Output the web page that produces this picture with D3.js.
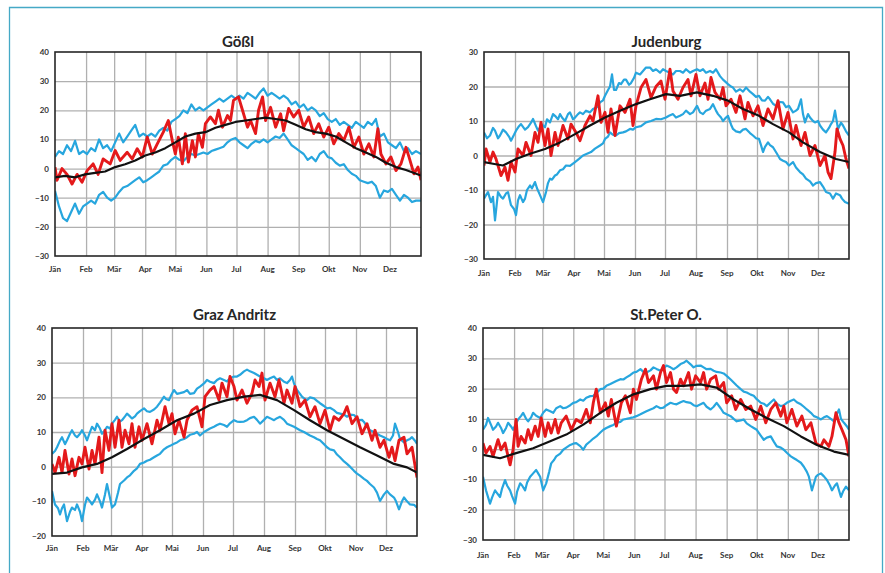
<!DOCTYPE html>
<html>
<head>
<meta charset="utf-8">
<script src="https://cdn.jsdelivr.net/npm/d3@7"></script>
<style>
  html, body { margin: 0; padding: 0; background: #fff; }
  svg { display: block; }
</style>
</head>
<body>
<svg id="chart" width="885" height="573"></svg>
<script>
// Month axis (day of year where each month starts)
const months = ["Jän","Feb","Mär","Apr","Mai","Jun","Jul","Aug","Sep","Okt","Nov","Dez"];
const monthStartDays = [0,31,59,90,120,151,181,212,243,273,304,334];

const stations = ["Gößl","Judenburg","Graz Andritz","St.Peter O."];
const yTicksGoessl = [-30,-20,-10,0,10,20,30,40];
const yTicksJudenburg = [-30,-20,-10,0,10,20,30];
const yTicksGraz = [-20,-10,0,10,20,30,40];
const yTicksStPeter = [-30,-20,-10,0,10,20,30,40];

// Daily temperatures (°C) as [day of year, value]
const goesslMax = [[0,4],[4,6],[8,5],[12,8],[16,6],[20,9.5],[24,5],[28,6],[32,5],[36,7],[40,6],[44,10],[48,7],[52,8],[56,6],[60,9],[64,12],[68,9],[72,11],[76,13],[80,15],[84,11],[88,12],[92,11],[96,12],[100,11],[104,13],[108,14],[112,13],[116,16],[120,17],[124,18],[128,20],[132,19],[136,22],[140,20],[144,21],[148,20],[152,21],[156,22],[160,23],[164,24],[168,23],[172,24],[176,25],[180,24],[184,25],[188,24],[192,26],[196,25],[200,24],[204,26],[208,27.5],[212,25],[216,26],[220,25],[224,24],[228,25],[232,24],[236,22],[240,23],[244,21],[248,22],[252,20],[256,21],[260,20],[264,18],[268,19],[272,17],[276,16],[280,17],[284,15],[288,16],[292,15],[296,14],[300,16],[304,15],[308,14],[312,16],[316,15],[320,17],[324,11],[328,12],[332,9],[336,8],[340,7],[344,9],[348,6],[352,7],[356,5],[360,6],[365,5]];
const goesslMin = [[0,-7.6],[4,-13],[8,-17],[12,-18],[16,-15],[20,-12],[24,-15.5],[28,-13],[32,-12],[36,-11],[40,-12],[44,-9],[48,-8],[52,-10],[56,-11],[60,-10],[64,-8],[68,-6.5],[72,-6],[76,-5],[80,-4],[84,-3],[88,-4.7],[92,-4],[96,-3],[100,-2],[104,-1],[108,1],[112,1.5],[116,3],[120,4],[124,3],[128,2.5],[132,4],[136,5],[140,4.5],[144,5],[148,5.5],[152,5],[156,6],[160,6.5],[164,7],[168,7.5],[172,9],[176,10],[180,10.5],[184,9],[188,8],[192,7],[196,8.5],[200,9.5],[204,9],[208,10],[212,9],[216,10],[220,11],[224,10.5],[228,12],[232,10],[236,8],[240,7],[244,6],[248,5],[252,3],[256,4],[260,2.5],[264,5],[268,6],[272,4],[276,3.5],[280,2],[284,1],[288,1.5],[292,-0.5],[296,-1.8],[300,-2.5],[304,-4],[308,-4.5],[312,-5],[316,-4.5],[320,-6],[324,-10],[328,-7.5],[332,-8],[336,-7],[340,-9],[344,-11],[348,-9],[352,-10],[356,-11.5],[360,-11],[365,-11]];
const goesslMean = [[0,-3],[10,-2.5],[20,-3],[30,-2],[40,-1.5],[50,-1],[60,0.5],[70,1.5],[80,2.8],[90,4.5],[100,5.5],[110,7],[120,9],[130,11],[140,12],[150,12.5],[160,14],[170,15],[180,16],[190,16.5],[200,17],[210,17.5],[220,17],[230,16.5],[240,15],[250,13.5],[260,12.5],[270,12],[280,11],[290,9],[300,7],[310,5.5],[320,4],[330,2],[340,0.5],[350,-0.5],[365,-2.4]];
const goesslCurrent = [[0,0.5],[2,-4],[7,0],[12,-2],[17,-5.3],[22,-2],[27,-4.7],[32,-0.7],[38,1.6],[43,-2],[48,3.3],[55,1.6],[60,6.2],[65,2.8],[72,5.6],[77,3.3],[82,6.8],[87,4],[92,10.8],[97,5],[102,8.5],[108,12.5],[113,16.5],[117,9.6],[120,5],[123,10.8],[127,1.6],[130,12],[133,2.2],[137,9.6],[140,4],[143,12],[147,7.3],[150,15.4],[155,17.7],[160,15.4],[163,20],[167,14.2],[172,18.2],[175,16.5],[178,23.4],[183,24.6],[187,20],[192,14.2],[195,16.5],[200,12],[203,20],[207,24.6],[210,16.5],[215,21],[220,14.2],[225,18.8],[228,13],[233,20.6],[238,17.7],[243,20],[248,14.2],[253,17.7],[258,12],[263,15.4],[268,10.8],[273,14.2],[278,8.5],[283,12],[288,9.6],[293,14.2],[298,7.3],[303,10.8],[308,5],[313,8.5],[318,4],[322,13.7],[325,5],[330,1.6],[335,4],[340,-0.7],[345,1.6],[350,7.3],[353,4],[358,-1.8],[362,0.5],[365,-4]];

const judenburgMax = [[0,6.7],[3,5],[6,5.8],[9,8],[11,7.2],[14,5],[16,5.8],[19,7.5],[22,6.7],[25,5.5],[27,4.3],[30,6],[32,7.2],[35,8.5],[37,9.1],[41,7.5],[44,8.2],[47,9.5],[49,10.6],[52,8.5],[54,7.2],[58,9],[61,8.2],[63,10.5],[66,9.6],[69,12],[71,11.5],[74,10.5],[76,12],[78,11],[81,10],[84,12],[86,12.5],[89,10.5],[91,11],[94,12],[96,12.5],[99,12],[102,13],[106,12.5],[109,13.5],[113,14],[116,15.4],[119,16],[121,17.3],[124,19],[126,20],[128,23.5],[130,19],[132,19],[135,21],[137,20.7],[140,22],[142,22],[145,20.5],[147,21],[150,22.5],[152,24],[156,23.5],[159,24.5],[162,25.5],[166,25.5],[169,24.5],[172,25],[176,24],[179,25],[182,24.5],[186,24],[189,23.5],[192,24.5],[196,24.5],[199,24],[202,25],[206,24],[209,24.5],[213,25],[216,24.5],[219,25],[222,24],[226,24.5],[229,24],[232,25],[236,23],[239,22],[241,21.5],[244,20.7],[247,20],[249,19.7],[252,18.5],[256,19.2],[259,18.5],[262,19.7],[266,18.5],[269,17.8],[272,17],[275,17.3],[278,16],[281,15.9],[284,17],[286,16.3],[289,15],[292,14.4],[296,15.5],[299,15.4],[302,14],[305,14.4],[309,12.5],[312,13],[314,13.5],[317,16.3],[319,12],[321,9.6],[324,12],[326,11],[329,10],[331,9.6],[334,10],[336,8.7],[339,7.5],[342,6.7],[345,8],[347,9.1],[349,10],[351,13],[354,7.7],[357,9.5],[359,8.7],[362,7],[365,5.8]];
const judenburgMin = [[0,-12.5],[2,-11.5],[4,-10.6],[7,-13.5],[9,-12],[11,-18.8],[14,-10.6],[17,-12],[19,-12.5],[22,-11],[24,-10.6],[27,-14.4],[30,-15.5],[32,-17.3],[34,-13],[36,-11.5],[39,-13.5],[41,-12.5],[43,-10],[46,-8.7],[48,-9.5],[51,-7.7],[53,-9.5],[56,-11.5],[59,-13.5],[62,-10.6],[64,-8],[66,-6.7],[68,-7],[71,-5.8],[73,-5.5],[76,-4.3],[79,-4],[82,-2.9],[86,-3],[91,-1.9],[95,-1],[99,0],[103,0.5],[107,1],[111,2],[116,2.9],[119,3.5],[121,4.8],[124,5.5],[126,6.7],[129,6],[132,5.8],[135,6.5],[139,6.7],[142,7],[146,7.7],[149,7.5],[152,8.2],[157,8.5],[162,9.6],[167,10],[172,10.6],[177,10.5],[182,11],[185,11.5],[189,12],[192,11],[196,11.5],[199,12],[202,13],[206,12],[209,12.5],[213,14.4],[216,12.5],[219,12],[222,13],[226,13.5],[229,14.9],[232,13],[234,12],[237,11],[239,10],[242,11],[244,11.5],[247,9],[249,7.7],[252,7],[256,6.7],[259,7.5],[262,7.7],[266,6.5],[269,5.8],[272,5],[275,4.8],[277,3],[279,1],[281,2.5],[284,3.8],[286,3],[289,2.4],[293,0.5],[296,-1],[299,-1.5],[302,-1.9],[305,-2.9],[309,-1.9],[312,-3.5],[316,-4.8],[319,-5.5],[322,-6.7],[326,-7.5],[329,-8.7],[332,-8],[336,-7.7],[339,-9],[342,-10.6],[346,-11],[349,-12.5],[352,-11],[356,-11.5],[358,-12.5],[361,-13.5],[365,-14]];
const judenburgMean = [[0,-1.9],[9,-2.4],[19,-2.9],[32,-1],[46,0.5],[61,1.9],[76,3.8],[91,6.2],[106,8.7],[121,11],[136,13],[152,14.9],[166,16.3],[182,17.8],[196,17.3],[213,18.3],[229,17.3],[244,15.9],[259,13.5],[275,11.5],[289,9.1],[305,6.7],[319,3.8],[336,1],[352,-1],[365,-1.9]];
const judenburgCurrent = [[0,-2.9],[2,1.9],[6,-1.9],[9,1],[12,-1],[17,-5.8],[21,-3.4],[24,-7.2],[27,-1.9],[31,-4.8],[34,1.9],[39,0],[42,3.8],[47,0],[51,6.7],[54,3.8],[57,9.6],[61,2.9],[64,7.7],[67,0],[71,6.7],[74,2.9],[79,8.7],[84,4.8],[87,9.1],[92,6.7],[96,4.3],[101,8.7],[106,11.5],[109,10],[114,17.3],[117,9.6],[121,12.5],[124,6.7],[127,13.5],[131,5.8],[136,14.4],[141,12.5],[146,16.3],[149,8.7],[152,14.4],[157,19.7],[162,22],[167,16.8],[172,20],[177,21.6],[181,16.3],[186,25],[189,18.7],[194,16.3],[199,19.7],[204,22],[207,17.3],[212,23.5],[216,17.3],[221,21],[224,16.3],[227,22.6],[231,18.3],[236,16.3],[239,19.7],[242,14.4],[247,16.3],[252,12.5],[256,17.3],[261,10.6],[264,15.4],[269,11.5],[274,14.4],[279,8.7],[284,13.5],[289,10.6],[294,15.9],[299,7.7],[304,12.5],[309,4.8],[312,8.7],[317,2.9],[321,6.7],[326,0],[331,2.9],[336,-2.9],[341,0],[344,-4.8],[347,-6.7],[351,1],[353,7.7],[356,4.8],[359,2.9],[362,-1],[365,-3.8]];

const grazMax = [[0,3.7],[3,4.5],[5,5.6],[8,7.5],[10,8.5],[13,6.5],[15,7.6],[18,9.5],[20,10.5],[23,9],[25,8.5],[28,9.5],[30,10.5],[33,9],[35,7.6],[38,10],[40,11.5],[43,10.5],[45,12.4],[48,11],[50,9.5],[53,10.5],[55,11.5],[58,11],[60,12.4],[63,13.5],[65,14.4],[68,13],[70,13.4],[73,14.5],[75,15.3],[78,14.5],[80,13.9],[83,14.5],[85,15.3],[88,16],[92,16.8],[95,16],[98,15.8],[102,16.5],[105,17.3],[108,18.5],[112,20.2],[114,19.5],[117,19.2],[119,20.5],[122,22.1],[125,21],[128,21.2],[132,21.5],[135,22.1],[138,21],[142,21.2],[145,22.5],[148,23.1],[152,24],[155,25],[158,24.5],[162,24.1],[165,25],[168,25.5],[172,25],[175,24.6],[178,25.5],[182,26],[185,26],[188,26.5],[192,27.5],[195,28],[198,27.5],[202,27],[205,26.5],[208,26],[212,25.5],[215,25],[218,25.5],[222,26],[225,25],[228,25.5],[232,24.5],[235,24.1],[238,25],[240,26],[242,24],[245,22.1],[248,21],[250,20.2],[253,19.5],[255,19.2],[258,20],[262,19.7],[265,19],[268,18.3],[272,17.5],[275,16.8],[278,17],[282,16.3],[285,15.5],[288,15.3],[292,15],[295,14.4],[298,15],[302,14.9],[305,14],[307,13.4],[310,13.5],[312,12.9],[315,11.5],[318,10.5],[322,10],[325,9.5],[328,9],[332,8.5],[335,8],[338,7.6],[341,9],[343,12.4],[346,10],[348,8],[352,7],[355,7.6],[358,8],[360,8.5],[363,7.5],[365,6.6]];
const grazMin = [[0,-7],[3,-10.9],[6,-12],[8,-13.8],[10,-12],[12,-10.9],[15,-15.7],[18,-13],[20,-11.8],[23,-12.5],[25,-10.9],[28,-13],[30,-15.7],[33,-11],[35,-8.9],[38,-10],[40,-10.9],[43,-9.5],[45,-8],[48,-10],[50,-11.8],[53,-8],[55,-5],[58,-9],[60,-11.8],[63,-10.9],[66,-7.5],[68,-5],[72,-4],[75,-3.1],[78,-2.5],[82,-1.2],[85,-0.5],[88,0.8],[92,1.2],[95,1.7],[98,2],[102,2.7],[105,3.2],[108,3.7],[112,5],[115,5.6],[118,6],[122,6.6],[125,7],[128,7.6],[132,8],[135,8.5],[138,9.2],[142,9.5],[145,10],[148,9],[152,10],[155,10.5],[158,11],[162,11.5],[165,12],[168,12.4],[172,12],[175,11.5],[178,12.5],[182,13.4],[185,13],[188,12.9],[192,13],[195,13.4],[198,14],[202,14.4],[205,13.5],[208,12.4],[212,13.5],[215,14.4],[218,14],[222,13.4],[225,14],[228,14.4],[232,13.5],[235,12.4],[238,12],[242,11.5],[245,11],[248,10.5],[252,10],[255,9.5],[258,9],[262,8.5],[265,8],[268,7.6],[272,6.5],[275,5.6],[278,5],[282,4.7],[285,3.5],[288,2.7],[292,1.5],[295,0.8],[298,0],[302,-1.2],[305,-2],[308,-2.6],[312,-3.5],[315,-4.1],[318,-5],[322,-6],[325,-7.5],[328,-9.9],[332,-8],[335,-7],[338,-8],[342,-8.9],[344,-10],[347,-12.3],[350,-10],[352,-8.9],[355,-10],[358,-10.9],[362,-11],[365,-11.8]];
const grazMean = [[0,-2.1],[15,-1.7],[30,-0.2],[45,0.8],[60,2.7],[75,5.1],[92,8],[108,10.5],[125,13.4],[142,15.3],[158,17.8],[175,19.2],[192,20.2],[208,20.7],[225,19.2],[242,16.3],[258,13.4],[275,10.5],[292,8],[308,5.6],[325,3.2],[342,0.8],[355,-0.2],[365,-1.7]];
const grazCurrent = [[0,0.8],[3,-1.7],[7,2.7],[10,-1.7],[13,4.7],[17,-2.1],[20,2.2],[23,-2.6],[27,2.7],[30,0.8],[33,5.6],[37,-0.7],[40,4.7],[43,0.8],[47,8.5],[50,-1.7],[53,10.5],[57,4.7],[60,12.4],[63,5.6],[67,13.4],[70,5.6],[73,10.5],[77,6.6],[80,12.4],[83,5.6],[87,11.5],[90,7.6],[95,12.4],[100,6.6],[105,13.4],[108,10.5],[113,17.3],[117,12.4],[120,15.3],[123,9.5],[127,13.4],[132,8.5],[135,13.4],[140,16.3],[145,17.3],[150,11.5],[153,20.2],[158,22.1],[162,23.1],[167,19.2],[170,24.1],[175,20.2],[178,26],[182,23.1],[185,19.2],[190,22.1],[195,18.3],[200,21.2],[203,25],[207,23.1],[210,27],[213,19.2],[218,24.1],[223,20.2],[227,25],[232,18.3],[235,22.1],[240,18.3],[243,23.1],[248,17.3],[253,19.2],[258,14.4],[263,17.3],[268,12.4],[273,16.3],[278,10.5],[282,14.4],[287,13.4],[292,15.3],[295,17.3],[300,12.4],[305,14.4],[310,9.5],[315,12.4],[320,7.6],[323,10.5],[328,5.6],[332,7.6],[337,2.7],[340,5.6],[343,1.7],[347,7.6],[352,8.5],[355,3.7],[360,5.6],[365,-3.1]];

const stPeterMax = [[0,6.4],[3,8],[5,10.3],[8,8],[10,6.4],[13,7.5],[15,8.7],[18,7],[20,5.3],[23,7],[25,8.7],[28,7.5],[30,6.4],[33,8.5],[35,9.8],[38,11],[40,12],[43,10],[45,9.2],[48,10.5],[50,12],[53,11],[57,10.3],[60,12],[63,13.1],[67,12.5],[70,12],[73,13.5],[77,14.2],[80,13.5],[83,13.7],[87,14.5],[90,15.3],[93,15.5],[97,16.4],[100,16],[103,17],[107,17.5],[110,17.6],[113,18.5],[117,19.8],[120,20],[123,20.9],[127,21.5],[130,22],[133,22.5],[137,23.1],[140,23],[143,23.7],[147,24.5],[150,25.3],[153,25.5],[157,26.4],[160,25.5],[163,25.3],[167,26],[170,27],[173,26.5],[177,25.9],[180,26.5],[183,27.6],[187,27],[190,26.4],[193,27],[197,28.1],[200,28.5],[203,29.2],[207,28],[210,27],[213,27.5],[217,27.6],[220,27],[223,26.4],[227,26.5],[230,25.9],[233,25.5],[237,25.3],[240,25],[243,24.2],[247,23],[250,22],[253,21],[257,19.8],[260,19],[263,18.7],[267,18],[270,17.6],[273,16.5],[277,15.3],[280,15],[283,14.2],[287,15.5],[290,16.4],[293,15],[297,14.2],[300,14.5],[303,15.3],[307,16],[310,16.4],[313,15.5],[317,14.8],[320,14],[323,13.1],[327,12],[330,10.9],[333,10.5],[337,9.8],[340,10.5],[343,10.9],[347,10],[350,9.2],[352,11],[355,13.1],[357,10],[360,8.7],[363,7.5],[365,6.4]];
const stPeterMin = [[0,-9.1],[3,-13.6],[7,-18],[9,-16],[12,-13.6],[14,-14.5],[17,-15.8],[19,-13],[22,-10.2],[24,-12],[27,-13.6],[29,-15.5],[32,-18],[34,-14],[37,-11.3],[39,-12],[42,-13.6],[44,-11],[47,-9.1],[50,-8],[53,-6.9],[55,-8],[57,-9.1],[60,-13.6],[63,-11.3],[66,-7.5],[68,-4.7],[71,-3.5],[73,-2.4],[77,-1.5],[80,-0.2],[83,0.5],[87,1.4],[90,1.8],[93,2],[97,1],[100,-0.2],[103,1.5],[107,2.6],[110,3.5],[113,4.2],[117,5.5],[120,6.4],[123,7],[127,7.6],[130,8],[133,8.7],[137,9],[140,9.8],[143,10],[147,10.3],[150,10.5],[153,10.9],[157,11.5],[160,12],[163,12.5],[167,13.1],[170,13.5],[173,14.2],[177,13.5],[180,13.7],[183,14.5],[187,15.3],[190,15],[193,14.8],[197,15.5],[200,15.9],[203,15.5],[207,15.3],[210,14.5],[213,14.2],[217,14.8],[220,15.3],[223,14],[227,13.1],[230,14],[233,15.3],[237,13.5],[240,12],[243,11.5],[247,10.9],[250,10],[253,9.2],[257,9.5],[260,9.8],[263,8.5],[267,7.6],[270,7],[273,6.4],[277,4.5],[280,3.1],[283,3.8],[287,4.2],[290,2.5],[293,0.9],[297,0.5],[300,-0.2],[303,-1.2],[307,-2.4],[310,-3],[313,-3.6],[317,-4.5],[320,-5.8],[323,-7.5],[325,-9.1],[328,-13.6],[332,-9.1],[334,-8.5],[337,-8],[340,-9],[343,-10.2],[346,-12],[348,-13.6],[351,-12],[353,-11.3],[357,-15.8],[359,-14],[362,-12.4],[365,-13.6]];
const stPeterMean = [[0,-1.9],[17,-3],[33,-1.3],[50,0.3],[67,2.6],[83,4.8],[100,8.1],[117,12],[133,15.3],[150,18.1],[167,19.8],[183,20.9],[200,20.9],[217,21.4],[233,20.3],[250,16.4],[267,13.1],[283,10.3],[300,7.6],[317,4.2],[333,1.4],[350,-0.8],[365,-1.9]];
const stPeterCurrent = [[0,2],[3,-1.3],[7,0.9],[10,-2.4],[15,3.1],[18,-0.2],[22,2],[25,-2.4],[27,-5.2],[30,-0.2],[33,9.8],[35,0.9],[38,4.2],[42,2],[45,6.4],[48,3.1],[52,7.6],[55,4.2],[58,10.3],[62,4.2],[65,8.7],[68,5.3],[72,9.8],[75,5.3],[78,8.7],[83,10.9],[88,6.4],[93,9.8],[98,8.7],[103,13.1],[107,8.7],[110,15.3],[113,19.8],[117,12],[122,15.3],[125,10.9],[128,16.4],[133,7.6],[138,15.3],[142,17.6],[147,12],[150,19.8],[153,16.4],[158,23.1],[162,26.4],[165,22],[170,24.2],[173,19.8],[177,25.3],[180,27.6],[183,22],[187,25.3],[190,19.8],[193,18.7],[197,23.1],[200,20.9],[205,25.3],[208,19.8],[212,24.2],[217,22],[220,25.3],[223,19.8],[227,23.1],[232,24.2],[235,19.8],[240,22],[243,15.3],[248,17.6],[252,13.1],[257,16.4],[262,13.1],[267,14.2],[272,9.8],[277,14.2],[282,8.7],[287,13.1],[292,15.3],[297,10.9],[300,14.2],[303,8.7],[308,13.1],[313,7.6],[318,10.9],[322,6.4],[327,8.7],[332,2],[337,0.9],[340,3.1],[345,0.9],[348,4.2],[352,12],[355,8.7],[358,6.4],[362,3.1],[365,-2.4]];

const panelMax = [goesslMax, judenburgMax, grazMax, stPeterMax];
const panelMin = [goesslMin, judenburgMin, grazMin, stPeterMin];
const panelMean = [goesslMean, judenburgMean, grazMean, stPeterMean];
const panelCurrent = [goesslCurrent, judenburgCurrent, grazCurrent, stPeterCurrent];
const panelTicks = [yTicksGoessl, yTicksJudenburg, yTicksGraz, yTicksStPeter];

// Plot-area placement of the four panels
const boxes = [
  { x0: 55,  y0: 52,  x1: 421, y1: 256, titleY: 47,  monthY: 272 },
  { x0: 484, y0: 52,  x1: 849, y1: 259, titleY: 47,  monthY: 276 },
  { x0: 52,  y0: 328, x1: 417, y1: 536, titleY: 320, monthY: 551 },
  { x0: 483, y0: 328, x1: 849, y1: 540, titleY: 320, monthY: 558 }
];

const BLUE = "#27a6de";
const RED = "#e4191b";
const BLACK = "#111111";
const GRID = "#b0b0b0";
const FONT = "Lato, 'Open Sans', 'DejaVu Sans', sans-serif";

const svg = d3.select("#chart");

// Outer frame (top, left and right edges)
svg.append("path")
  .attr("d", "M9.5,573 L9.5,7.5 L882.5,7.5 L882.5,573")
  .attr("fill", "none")
  .attr("stroke", "#45a9c6")
  .attr("stroke-width", 1.3);

boxes.forEach((b, i) => {
  const ticks = panelTicks[i];
  const x = d3.scaleLinear().domain([0, 365]).range([b.x0, b.x1]);
  const y = d3.scaleLinear().domain([ticks[0], ticks[ticks.length - 1]]).range([b.y1, b.y0]);
  const g = svg.append("g");

  // grid
  g.append("g")
    .attr("transform", `translate(0,${b.y1})`)
    .call(d3.axisBottom(x).tickValues(monthStartDays.slice(1)).tickSize(-(b.y1 - b.y0)).tickFormat(""))
    .call(s => s.select(".domain").remove())
    .call(s => s.selectAll("line").attr("stroke", GRID).attr("stroke-width", 1.3));
  g.append("g")
    .attr("transform", `translate(${b.x0},0)`)
    .call(d3.axisLeft(y).tickValues(ticks.slice(1, -1)).tickSize(-(b.x1 - b.x0)).tickFormat(""))
    .call(s => s.select(".domain").remove())
    .call(s => s.selectAll("line").attr("stroke", GRID).attr("stroke-width", 1.3));

  const line = d3.line().x(d => x(d[0])).y(d => y(d[1]));
  const clipId = "clip" + i;
  svg.append("clipPath").attr("id", clipId)
    .append("rect").attr("x", b.x0).attr("y", b.y0).attr("width", b.x1 - b.x0).attr("height", b.y1 - b.y0);
  const lines = g.append("g").attr("clip-path", `url(#${clipId})`);

  lines.append("path").datum(panelMax[i]).attr("d", line)
    .attr("fill", "none").attr("stroke", BLUE).attr("stroke-width", 2.2).attr("stroke-linejoin", "round");
  lines.append("path").datum(panelMin[i]).attr("d", line)
    .attr("fill", "none").attr("stroke", BLUE).attr("stroke-width", 2.2).attr("stroke-linejoin", "round");
  lines.append("path").datum(panelCurrent[i]).attr("d", line)
    .attr("fill", "none").attr("stroke", RED).attr("stroke-width", 2.9).attr("stroke-linejoin", "round");
  lines.append("path").datum(panelMean[i]).attr("d", line)
    .attr("fill", "none").attr("stroke", BLACK).attr("stroke-width", 2.2).attr("stroke-linejoin", "round");

  // plot frame
  g.append("rect")
    .attr("x", b.x0).attr("y", b.y0)
    .attr("width", b.x1 - b.x0).attr("height", b.y1 - b.y0)
    .attr("fill", "none").attr("stroke", "#262626").attr("stroke-width", 1.6);

  // y tick labels
  g.append("g")
    .attr("transform", `translate(${b.x0},0)`)
    .call(d3.axisLeft(y).tickValues(ticks).tickSize(0).tickPadding(6))
    .call(s => s.select(".domain").remove())
    .call(s => s.selectAll("text")
      .attr("font-family", FONT).attr("font-size", 8).attr("font-weight", "bold").attr("fill", "#333"));

  // month labels
  g.selectAll("text.month").data(months).enter().append("text")
    .attr("class", "month")
    .attr("x", (m, k) => x(monthStartDays[k]))
    .attr("y", b.monthY)
    .attr("text-anchor", "middle")
    .attr("font-family", FONT).attr("font-size", 8).attr("font-weight", "bold").attr("fill", "#333")
    .text(m => m);

  // station title
  g.append("text")
    .attr("x", (b.x0 + b.x1) / 2)
    .attr("y", b.titleY)
    .attr("text-anchor", "middle")
    .attr("font-family", FONT).attr("font-size", 15).attr("font-weight", "bold").attr("fill", "#262626")
    .text(stations[i]);
});
</script>
</body>
</html>
